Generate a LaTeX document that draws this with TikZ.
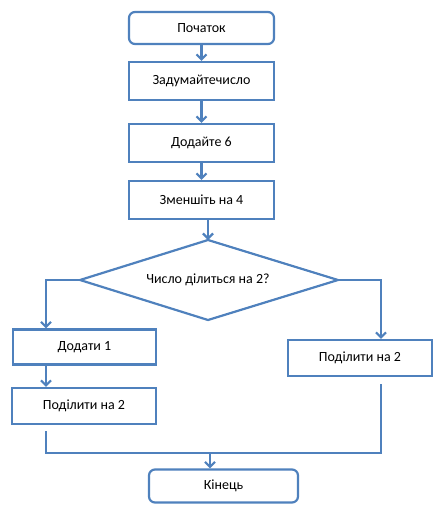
\documentclass[tikz,border=0pt]{standalone}
\usepackage{fontspec}
\setmainfont{Carlito}
\usetikzlibrary{arrows.meta}
\definecolor{edge}{HTML}{4F81BD}
\tikzset{
  txt/.style={font=\fontsize{14}{16}\selectfont},
  box/.style={draw=edge, line width=2.2pt, fill=white, rectangle, inner sep=0pt, align=center, txt},
  term/.style={box, rounded corners=6pt},
  conn/.style={draw=edge, line width=2.2pt},
  arr/.style={conn, -{Straight Barb[length=5pt,width=10pt,line width=2.2pt]}}
}
\begin{document}
\begin{tikzpicture}[x=1pt,y=-1pt]
\useasboundingbox (0,0) rectangle (444,525);
\node[term, minimum width=145pt, minimum height=32pt] (start) at (201.5,28) {Початок};
\node[box, minimum width=145pt, minimum height=38pt] (n1) at (201.5,81) {Задумайтечисло};
\node[box, minimum width=145pt, minimum height=38pt] (n2) at (201.5,143) {Додайте 6};
\node[box, minimum width=145pt, minimum height=38pt] (n3) at (201.5,200) {Зменшіть на 4};
\coordinate (dtop) at (208,240);
\coordinate (dleft) at (80,280);
\coordinate (dright) at (338,280);
\coordinate (dbot) at (208,320);
\draw[conn, line join=miter] (dtop) -- (dright) -- (dbot) -- (dleft) -- cycle;
\node[txt] (dec) at (208,280) {Число ділиться на 2?};
\node[box, minimum width=143pt, minimum height=35pt] (l1) at (84.5,347) {Додати 1};
\node[box, minimum width=144pt, minimum height=36pt] (l2) at (84,406) {Поділити на 2};
\node[box, minimum width=144pt, minimum height=36pt] (r1) at (360,358) {Поділити на 2};
\node[term, minimum width=149pt, minimum height=33pt] (end) at (223.5,486) {Кінець};
\coordinate (lx) at (46,280);
\coordinate (rx) at (381,280);
\coordinate (jl) at (46,453);
\coordinate (jr) at (381,453);
\coordinate (jm) at (210,453);
\draw[arr] (start.south) -- (n1.north);
\draw[arr] (n1.south) -- (n2.north);
\draw[arr] (n2.south) -- (n3.north);
\draw[arr] (n3.south -| dtop) -- (dtop);
\draw[arr] (dleft) -- (lx) -- (lx |- l1.north);
\draw[arr] (dright) -- (rx) -- (rx |- r1.north);
\draw[arr] (l1.south -| lx) -- (l2.north -| lx);
\draw[conn] ([yshift=-6pt]l2.south -| lx) -- (jl) -- (jr) -- ([yshift=-7pt]r1.south -| rx);
\draw[arr] (jm) -- (end.north -| jm);
\end{tikzpicture}
\end{document}
